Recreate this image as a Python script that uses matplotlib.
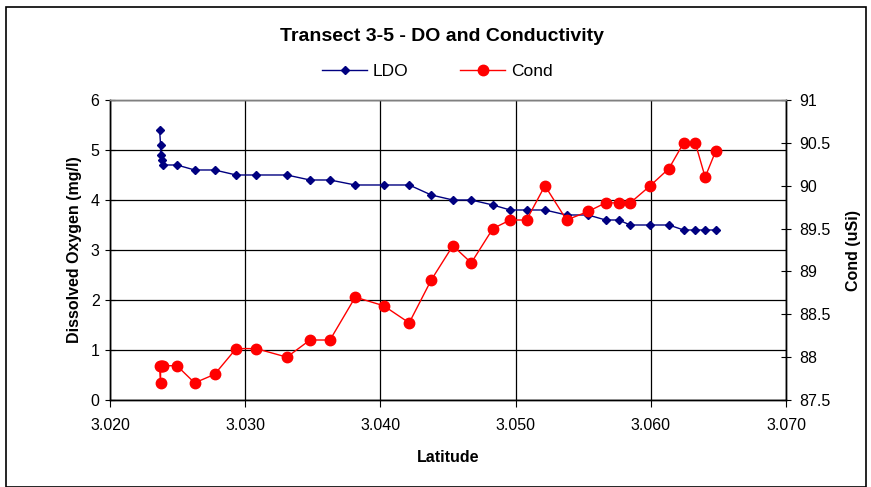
import matplotlib
matplotlib.use("Agg")
import matplotlib.pyplot as plt
from matplotlib.patches import Rectangle

plt.rcParams['font.family'] = ['Liberation Sans', 'DejaVu Sans']

latitude = [3.02367, 3.02374, 3.02374, 3.02384, 3.02394, 3.02495, 3.02626, 3.02774,
            3.02933, 3.03081, 3.03308, 3.03479, 3.03627, 3.03814, 3.04024, 3.04213,
            3.04376, 3.04536, 3.04672, 3.04832, 3.04960, 3.05081, 3.05217, 3.05377,
            3.05537, 3.05666, 3.05762, 3.05848, 3.05996, 3.06134, 3.06243, 3.06329,
            3.06402, 3.06479]
ldo = [5.4, 5.1, 4.9, 4.8, 4.7, 4.7, 4.6, 4.6, 4.5, 4.5, 4.5, 4.4, 4.4, 4.3, 4.3, 4.3,
       4.1, 4.0, 4.0, 3.9, 3.8, 3.8, 3.8, 3.7, 3.7, 3.6, 3.6, 3.5, 3.5, 3.5, 3.4, 3.4,
       3.4, 3.4]
cond = [87.9, 87.7, 87.9, 87.9, 87.9, 87.9, 87.7, 87.8, 88.1, 88.1, 88.0, 88.2, 88.2,
        88.7, 88.6, 88.4, 88.9, 89.3, 89.1, 89.5, 89.6, 89.6, 90.0, 89.6, 89.7, 89.8,
        89.8, 89.8, 90.0, 90.2, 90.5, 90.5, 90.1, 90.4]

x_ticks = [3.020, 3.030, 3.040, 3.050, 3.060, 3.070]
do_ticks = [0, 1, 2, 3, 4, 5, 6]
cond_ticks = [87.5, 88, 88.5, 89, 89.5, 90, 90.5, 91]

fig = plt.figure(figsize=(8.71, 4.87), dpi=100)
ax = fig.add_axes([0.1263, 0.1786, 0.7761, 0.6161])
ax2 = ax.twinx()

l1, = ax.plot(latitude, ldo, color='#000080', marker='D', markersize=4.5, lw=1,
              label='LDO', zorder=3)
l2, = ax2.plot(latitude, cond, color='#FF0000', marker='o', markersize=7.5, lw=1,
               label='Cond', zorder=3)

ax.set_xlim(3.020, 3.070)
ax.set_ylim(0, 6)
ax2.set_ylim(87.5, 91)
ax.set_xticks(x_ticks)
ax.set_xticklabels([f"{t:.3f}" for t in x_ticks])
ax.set_yticks(do_ticks)
ax2.set_yticks(cond_ticks)
ax2.set_yticklabels([f"{t:g}" for t in cond_ticks])

ax.grid(True, color='black', lw=0.9)
ax.set_axisbelow(True)
ax.tick_params(axis='x', labelsize=11.5, length=5, width=0.8, pad=8, direction='out')
ax.tick_params(axis='y', labelsize=11.5, length=7, width=0.8, pad=4, direction='inout')
ax2.tick_params(axis='y', labelsize=11.5, length=7, width=0.8, pad=6, direction='inout')
for a in (ax, ax2):
    for name, s in a.spines.items():
        s.set_color('#808080' if name == 'top' else 'black')
        s.set_linewidth(1)

ax.set_xlabel('Latitude', fontsize=11.5, fontweight='bold', labelpad=12)
ax.set_ylabel('Dissolved Oxygen (mg/l)', fontsize=11.5, fontweight='bold', labelpad=6)
ax2.set_ylabel('Cond (uSi)', fontsize=11.5, fontweight='bold', labelpad=11)

fig.text(0.508, 0.926, 'Transect 3-5 - DO and Conductivity', ha='center', va='center',
         fontsize=14, fontweight='bold')
leg = fig.legend(handles=[l1, l2], loc='center', bbox_to_anchor=(0.502, 0.853), ncol=2,
                 frameon=False, fontsize=12.5, columnspacing=3.0, handlelength=2.6,
                 handletextpad=0.3)

fig.patches.append(Rectangle((0.007, 0.0), 0.987, 0.985, transform=fig.transFigure,
                             fill=False, edgecolor='black', lw=1.2))

fig.savefig('out.png', dpi=100)
